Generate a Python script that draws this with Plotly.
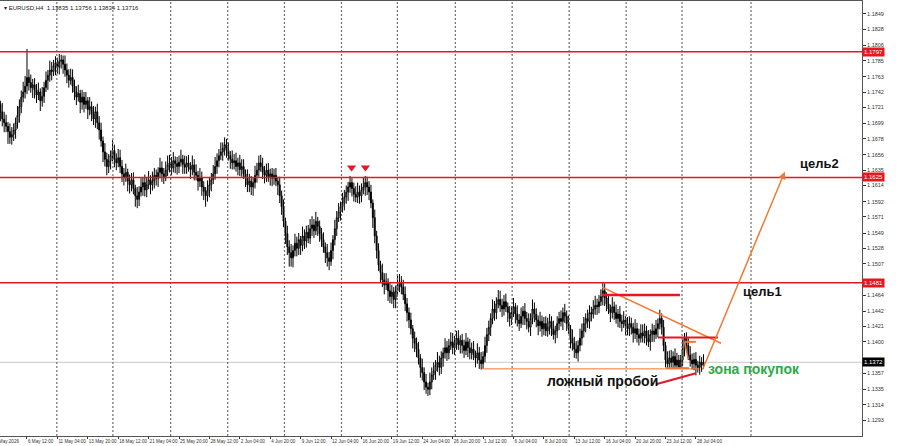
import plotly.graph_objects as go

# ---------------- data (prices stored as pips above 1.1000) ----------------
close_pips = [
731,725,715,705,700, 695,688,680,684,690, 700,710,722,735,742, 750,762,755,748,752,
745,738,742,730,736, 748,758,765,772,770, 778,782,776,784,786, 780,772,765,758,762,
750,742,735,740,728, 735,725,730,718,722, 712,705,715,700,690, 675,660,650,640,648,
655,662,650,645,652, 640,630,625,632,620, 615,622,610,600,595, 605,612,618,608,615,
622,615,620,628,624, 632,638,630,626,635, 642,645,638,648,644, 640,646,650,643,639,
645,640,636,642,632, 628,620,625,612,606, 600,608,615,622,630, 640,648,655,660,665,
670,662,655,650,645, 648,640,645,636,640, 630,625,615,620,612, 618,628,635,645,640,
632,628,635,626,630, 624,628,620,615,600, 585,565,548,530,522, 515,525,535,528,540,
532,545,538,550,542, 555,560,552,565,558, 548,540,530,522,515, 510,525,540,555,570,
578,585,590,598,605, 612,618,610,602,598, 605,600,608,612,618, 612,605,590,570,545,
525,505,495,485,478, 482,470,462,468,458, 470,478,482,475,465, 452,440,430,418,405,
398,390,378,365,358, 345,338,335,345,355, 360,368,372,365,378, 385,392,385,395,400,
392,398,405,396,402, 395,388,400,392,385, 390,382,378,385,375, 370,380,395,410,420,
432,445,440,452,458, 450,445,455,448,440, 432,440,448,438,430, 425,435,442,432,428,
420,432,445,438,430, 422,428,418,425,415, 420,428,418,410,415, 425,432,428,440,435,
425,418,405,398,390, 385,395,405,415,425, 432,428,440,438,445, 450,448,455,462,470,
460,452,445,440,448, 440,432,438,428,425, 430,422,418,425,420, 412,418,410,405,412,
408,415,405,400,410, 415,410,418,425,432, 420,395,375,370,378, 372,380,368,375,365,
375,390,405,395,382, 375,370,376,368,365, 372,368,372]
high_pips = [
743,742,730,727,715, 711,701,699,694,699, 707,723,732,744,756, 764,801,773,766,760,
761,753,755,747,749, 756,770,772,785,783, 786,791,789,794,793, 792,792,781,773,774,
773,759,750,752,745, 745,742,742,735,735, 729,723,722,726,709, 700,681,672,659,657,
662,676,670,658,664, 663,649,638,644,637, 629,631,632,615,612, 613,624,625,629,625,
634,628,633,638,636, 639,652,647,638,647, 655,656,653,660,654, 653,655,663,656,655,
654,656,646,655,650, 643,634,638,633,620, 612,621,625,631,642, 653,658,664,673,673,
680,678,673,661,662, 657,659,652,656,650, 650,636,636,630,627, 625,641,645,655,656,
652,641,644,645,637, 638,637,638,626,626, 607,595,570,559,539, 534,532,548,544,549,
545,558,554,559,560, 568,572,568,578,571, 566,556,550,536,534, 523,536,546,567,579,
590,592,604,608,614, 619,627,624,618,613, 618,614,617,625,627, 626,620,615,595,581,
552,535,511,507,494, 494,487,482,478,475, 477,491,493,490,485, 476,460,447,440,423,
414,406,400,383,377, 365,356,344,358,365, 372,375,386,381,387, 392,405,401,404,413,
412,408,415,416,409, 411,403,412,406,404, 399,401,388,398,393, 386,387,407,419,429,
439,458,456,461,471, 470,459,464,466,454, 449,449,460,453,450, 438,447,449,453,441,
439,439,458,454,446, 436,441,436,434,435, 433,438,435,429,422, 435,441,443,447,452,
443,436,423,417,407, 401,402,418,425,434, 439,444,450,448,457, 463,459,464,472,482,
480,468,463,451,461, 455,451,445,449,437, 442,435,434,435,433, 426,431,426,418,424,
424,425,422,416,417, 425,423,430,432,444, 439,430,400,387,388, 389,387,391,385,382,
382,403,412,413,405, 394,384,385,386,374, 381,379,383]
low_pips = [
722,718,702,695,687, 687,671,671,670,675, 678,692,700,713,728, 733,739,744,741,734,
733,727,731,716,722, 727,742,745,756,758, 764,765,767,766,774, 767,763,754,748,752,
741,731,724,729,713, 718,714,719,705,710, 702,697,693,691,677, 667,646,640,628,631,
636,647,639,635,639, 631,619,614,619,606, 603,606,602,585,583, 586,599,600,599,598,
609,602,607,610,614, 612,624,619,616,620, 627,632,628,632,631, 629,631,640,630,630,
630,633,623,628,621, 621,607,612,600,594, 585,592,598,606,616, 622,630,639,649,648,
655,652,648,637,636, 636,633,628,627,626, 623,612,605,605,601, 600,610,618,626,633,
623,617,619,619,614, 613,615,613,601,590, 574,557,534,519,503, 503,502,517,517,519,
519,524,527,529,535, 534,545,542,546,545, 537,530,522,508,503, 498,504,513,532,545,
564,566,577,580,589, 593,604,599,592,591, 590,589,591,602,600, 601,594,583,556,535,
514,497,481,475,465, 471,456,453,452,446, 446,462,468,465,457, 442,428,419,410,391,
386,379,369,351,347, 334,329,326,327,335, 348,348,359,354,356, 366,377,374,376,389,
383,382,389,389,384, 384,378,382,379,376, 376,375,365,370,363, 362,363,372,385,401,
408,424,429,431,446, 441,434,436,441,427, 421,423,434,425,421, 415,419,423,423,417,
413,408,424,427,420, 409,414,407,409,408, 407,410,408,403,398, 405,416,421,416,426,
415,411,391,388,378, 377,373,387,395,406, 413,419,418,428,432, 437,437,439,449,450,
449,442,438,427,432, 430,425,420,419,414, 419,409,409,408,410, 399,404,399,395,399,
399,398,395,393,388, 400,400,404,406,417, 410,387,365,364,363, 365,364,363,364,363,
363,367,380,385,375, 366,362,361,354,358, 355,359,363]

x_tick_labels = ["1 May 2026", "6 May 12:00", "11 May 04:00", "13 May 20:00", "18 May 12:00",
                 "21 May 04:00", "25 May 20:00", "28 May 12:00", "2 Jun 04:00", "4 Jun 20:00",
                 "9 Jun 12:00", "12 Jun 04:00", "16 Jun 20:00", "19 Jun 12:00", "24 Jun 04:00",
                 "26 Jun 20:00", "1 Jul 12:00", "6 Jul 04:00", "8 Jul 20:00", "13 Jul 12:00",
                 "16 Jul 04:00", "20 Jul 20:00", "23 Jul 12:00", "28 Jul 04:00"]
x_tick_bars = [0, 16, 32, 48, 64, 80, 96, 112, 128, 144, 160, 176, 192, 208, 224, 240,
               256, 272, 288, 304, 320, 336, 352, 368]
y_tick_values = [1.1849, 1.1828, 1.1806, 1.1785, 1.1763, 1.1742, 1.1721, 1.1699, 1.1678,
                 1.1656, 1.1635, 1.1614, 1.1592, 1.1571, 1.1549, 1.1528, 1.1507,
                 1.1464, 1.1442, 1.1421, 1.1400, 1.1357, 1.1335, 1.1314, 1.1293, 1.1271]
grid_bars = [31.7, 61.2, 91.6, 121.6, 151.5, 181.5, 210.9, 241.4, 271.3, 301.3, 331.3, 360.7, 397.0]
resistance_levels = [1.1797, 1.1625, 1.1481]
current_price = 1.1372
title_text = "EURUSD,H4  1.13835 1.13756 1.13834 1.13716"

# annotation drawing anchors (bar index, price)
trend_line = [(318.6, 1.1475), (381.2, 1.1398)]
support_line = [(255.6, 1.1363), (369.6, 1.1363)]
support_thick = [(352.3, 1.1364), (364.4, 1.1364)]
red_seg_1 = [(318.6, 1.1464), (359.6, 1.1464)]
red_seg_2 = [(348.0, 1.1406), (379.6, 1.1406)]
small_orange = [(362.0, 1.1400), (368.0, 1.1400), (362.0, 1.1400), (364.0, 1.1376)]
target_arrow = [(371.2, 1.1360), (414.8, 1.1633)]
false_break_ptr = [(347.0, 1.1342), (368.0, 1.1357)]
peak_marks_x = [186.8, 194.1]
peak_marks_y = [1.16385, 1.16385]

# ---------------- figure ----------------
X_RANGE = [1.8, 455.4]
Y_RANGE = [1.12711, 1.18666]
bars = list(range(len(close_pips)))
to_price = lambda p: round(1.1 + p / 10000.0, 5)
closes = [to_price(p) for p in close_pips]
highs = [to_price(p) for p in high_pips]
lows = [to_price(p) for p in low_pips]
opens = [to_price(735)] + closes[:-1]

RED = "#e5171f"
ORANGE = "#f2782f"
FONT = "Liberation Sans, Arial"
fig = go.Figure()

fig.add_trace(go.Candlestick(
    x=bars, open=opens, high=highs, low=lows, close=closes,
    increasing=dict(line=dict(color="black", width=1), fillcolor="white"),
    decreasing=dict(line=dict(color="black", width=1), fillcolor="black"),
    whiskerwidth=0, showlegend=False, hoverinfo="skip"))

shapes = []
# vertical dotted grid
for g in grid_bars:
    shapes.append(dict(type="line", xref="x", yref="y", x0=g, x1=g, y0=Y_RANGE[0], y1=Y_RANGE[1],
                       line=dict(color="#6e6e6e", width=1.2, dash="2px,2px"), layer="above"))
shapes.append(dict(type="line", xref="paper", yref="y", x0=0, x1=1, y0=current_price, y1=current_price,
                   line=dict(color="#c8c8c8", width=1), layer="below"))
for lv in resistance_levels:
    shapes.append(dict(type="line", xref="paper", yref="y", x0=0, x1=1, y0=lv, y1=lv,
                       line=dict(color=RED, width=1.5)))

def seg(pts, color, width):
    (xa, ya), (xb, yb) = pts[0], pts[1]
    return dict(type="line", xref="x", yref="y", x0=xa, y0=ya, x1=xb, y1=yb,
                line=dict(color=color, width=width))

shapes.append(seg(trend_line, ORANGE, 1.5))
shapes.append(seg(support_line, ORANGE, 1))
shapes.append(seg(support_thick, ORANGE, 2))
shapes.append(seg(red_seg_1, RED, 2.5))
shapes.append(seg(red_seg_2, RED, 2))
shapes.append(seg(small_orange[0:2], ORANGE, 2))
shapes.append(seg(small_orange[2:4], ORANGE, 1.5))
shapes.append(seg(false_break_ptr, RED, 2))

fig.add_trace(go.Scatter(x=peak_marks_x, y=peak_marks_y, mode="markers",
                         marker=dict(symbol="triangle-down", size=8, color=RED),
                         showlegend=False, hoverinfo="skip"))

annotations = []
(ax0, ay0), (ax1, ay1) = target_arrow
annotations.append(dict(x=ax1, y=ay1, ax=ax0, ay=ay0, xref="x", yref="y", axref="x", ayref="y",
                        showarrow=True, arrowhead=2, arrowsize=1, arrowwidth=1.5,
                        arrowcolor=ORANGE, text=""))
txt_font = dict(family=FONT, size=13, color="#111")
annotations.append(dict(x=433, y=1.1644, xref="x", yref="y", text="<b>цель2</b>",
                        showarrow=False, font=txt_font))
annotations.append(dict(x=403, y=1.1469, xref="x", yref="y", text="<b>цель1</b>",
                        showarrow=False, font=txt_font))
annotations.append(dict(x=318.6, y=1.1347, xref="x", yref="y", text="<b>ложный пробой</b>",
                        showarrow=False, font=dict(family=FONT, size=14, color="#111")))
annotations.append(dict(x=398.5, y=1.1363, xref="x", yref="y", text="<b>зона покупок</b>",
                        showarrow=False, font=dict(family=FONT, size=14, color="#2eaa46")))
for lv in resistance_levels:
    annotations.append(dict(x=1, y=lv, xref="paper", yref="y", xanchor="left", yanchor="middle",
                            text=f"{lv:.4f}", showarrow=False, bgcolor=RED,
                            font=dict(family=FONT, size=6, color="white"), borderpad=1))
annotations.append(dict(x=1, y=current_price, xref="paper", yref="y", xanchor="left", yanchor="middle",
                        text=f"{current_price:.4f}", showarrow=False, bgcolor="black",
                        font=dict(family=FONT, size=6, color="white"), borderpad=1))
annotations.append(dict(x=0.002, y=0.995, xref="paper", yref="paper", xanchor="left", yanchor="top",
                        text="▾ " + title_text, showarrow=False,
                        font=dict(family=FONT, size=6, color="#222")))
# first date label sits left of the visible range (partly cut at the edge, as in the terminal)
first_px_frac = (x_tick_bars[0] - X_RANGE[0]) / (X_RANGE[1] - X_RANGE[0])
annotations.append(dict(x=first_px_frac, y=0, xref="paper", yref="paper", xanchor="left", yanchor="top",
                        yshift=-1, xshift=-4, text=x_tick_labels[0], showarrow=False,
                        font=dict(family=FONT, size=4.6, color="#333")))

fig.update_layout(
    width=900, height=446, margin=dict(l=0, r=38, t=1, b=10),
    paper_bgcolor="white", plot_bgcolor="white",
    shapes=shapes, annotations=annotations, showlegend=False,
    xaxis=dict(range=X_RANGE, rangeslider=dict(visible=False), showgrid=False, zeroline=False,
               automargin=False, tickangle=0,
               tickvals=x_tick_bars[1:], ticktext=x_tick_labels[1:], ticks="outside", ticklen=2,
               tickcolor="#333", ticklabelposition="outside right",
               tickfont=dict(family=FONT, size=4.6, color="#333"),
               showline=True, linecolor="#555", linewidth=1, mirror=True),
    yaxis=dict(range=Y_RANGE, side="right", showgrid=False, zeroline=False,
               automargin=False,
               tickvals=y_tick_values, ticktext=[f"{v:.4f}" for v in y_tick_values],
               ticks="outside", ticklen=3, tickcolor="#333",
               tickfont=dict(family=FONT, size=5.5, color="#333"),
               showline=True, linecolor="#555", linewidth=1, mirror=True),
)

fig.write_html("out.html", config={"displayModeBar": False},
               post_script="document.body.style.margin='0px';")
